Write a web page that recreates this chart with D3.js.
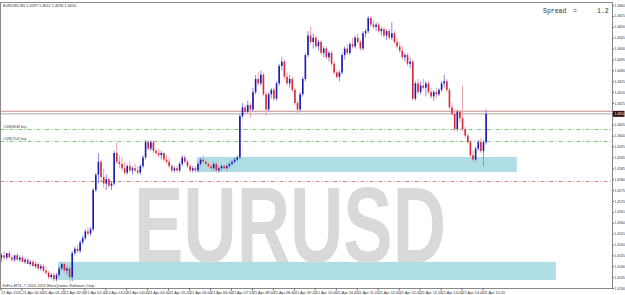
<!DOCTYPE html>
<html>
<head>
<meta charset="utf-8">
<script src="https://cdn.jsdelivr.net/npm/d3@7/dist/d3.min.js"></script>
<style>
body{margin:0;background:#fff;}
svg{display:block;font-family:"Liberation Sans",Arial,sans-serif;}
</style>
</head>
<body>
<script>
// EURUSD M5, 21 Apr 2011 from 00:00, one value per candle
let opens = [
1.4544,1.4545,1.4544,1.4546,1.4544,1.4543,1.4545,1.4543,1.4544,1.4542,
1.4543,1.4541,1.4542,1.4540,1.4541,1.4539,1.4540,1.4538,1.4537,1.4535,
1.4536,1.4534,1.4536,1.4539,1.4541,1.4538,1.4539,1.4535,1.4546,1.4548,
1.4547,1.4551,1.4553,1.4556,1.4555,1.4557,1.4575,1.4582,1.4588,1.4581,
1.4578,1.4580,1.4577,1.4578,1.4592,1.4588,1.4587,1.4585,1.4583,1.4586,
1.4584,1.4585,1.4584,1.4583,1.4586,1.4590,1.4597,1.4594,1.4597,1.4593,
1.4592,1.4591,1.4592,1.4589,1.4588,1.4586,1.4584,1.4585,1.4584,1.4587,
1.4590,1.4588,1.4586,1.4584,1.4585,1.4584,1.4587,1.4589,1.4588,1.4587,
1.4586,1.4585,1.4587,1.4584,1.4585,1.4586,1.4585,1.4586,1.4587,1.4588,
1.4589,1.4590,1.4609,1.4613,1.4611,1.4614,1.4612,1.4620,1.4626,1.4624,
1.4628,1.4619,1.4612,1.4619,1.4621,1.4617,1.4624,1.4632,1.4634,1.4627,
1.4624,1.4626,1.4621,1.4615,1.4612,1.4619,1.4626,1.4637,1.4646,1.4643,
1.4645,1.4641,1.4643,1.4638,1.4640,1.4636,1.4638,1.4633,1.4629,1.4627,
1.4629,1.4637,1.4640,1.4638,1.4642,1.4641,1.4645,1.4643,1.4640,1.4647,
1.4648,1.4654,1.4651,1.4650,1.4651,1.4648,1.4649,1.4646,1.4648,1.4645,
1.4647,1.4643,1.4641,1.4639,1.4636,1.4637,1.4633,1.4634,1.4617,1.4624,
1.4620,1.4623,1.4622,1.4624,1.4620,1.4618,1.4620,1.4619,1.4621,1.4624,
1.4625,1.4621,1.4613,1.4610,1.4603,1.4611,1.4608,1.4603,1.4600,1.4597,
1.4591,1.4589,1.4594,1.4597,1.4593,1.4597];
let highs = [
1.4546,1.4547,1.4546,1.4547,1.4545,1.4545,1.4546,1.4545,1.4545,1.4544,
1.4544,1.4543,1.4543,1.4542,1.4542,1.4541,1.4541,1.4540,1.4538,1.4537,
1.4537,1.4537,1.4540,1.4542,1.4542,1.4540,1.4540,1.4547,1.4549,1.4550,
1.4552,1.4554,1.4557,1.4558,1.4558,1.4576,1.4583,1.4592,1.4589,1.4585,
1.4582,1.4581,1.4579,1.4593,1.4597,1.4591,1.4590,1.4588,1.4587,1.4588,
1.4586,1.4587,1.4586,1.4587,1.4591,1.4598,1.4598,1.4598,1.4598,1.4594,
1.4594,1.4593,1.4592,1.4591,1.4590,1.4587,1.4586,1.4586,1.4588,1.4591,
1.4591,1.4589,1.4587,1.4586,1.4586,1.4588,1.4590,1.4591,1.4589,1.4588,
1.4587,1.4588,1.4588,1.4586,1.4587,1.4587,1.4587,1.4588,1.4589,1.4590,
1.4591,1.4610,1.4615,1.4614,1.4616,1.4615,1.4622,1.4628,1.4629,1.4630,
1.4629,1.4620,1.4620,1.4622,1.4622,1.4625,1.4633,1.4636,1.4635,1.4629,
1.4628,1.4627,1.4622,1.4616,1.4620,1.4627,1.4638,1.4648,1.4650,1.4647,
1.4646,1.4644,1.4644,1.4641,1.4641,1.4639,1.4639,1.4634,1.4630,1.4630,
1.4638,1.4641,1.4642,1.4643,1.4645,1.4646,1.4647,1.4644,1.4648,1.4649,
1.4655,1.4655,1.4653,1.4652,1.4652,1.4650,1.4650,1.4649,1.4649,1.4652,
1.4648,1.4645,1.4643,1.4641,1.4638,1.4638,1.4636,1.4635,1.4625,1.4626,
1.4625,1.4626,1.4625,1.4625,1.4622,1.4621,1.4622,1.4622,1.4625,1.4628,
1.4626,1.4622,1.4615,1.4612,1.4612,1.4612,1.4623,1.4604,1.4601,1.4598,
1.4593,1.4595,1.4598,1.4599,1.4598,1.4612];
let lows = [
1.4542,1.4543,1.4543,1.4544,1.4542,1.4542,1.4543,1.4542,1.4542,1.4541,
1.4541,1.4540,1.4540,1.4539,1.4538,1.4538,1.4537,1.4536,1.4534,1.4534,
1.4533,1.4533,1.4535,1.4538,1.4537,1.4536,1.4533,1.4533,1.4545,1.4546,
1.4546,1.4550,1.4552,1.4554,1.4554,1.4556,1.4574,1.4578,1.4579,1.4576,
1.4575,1.4576,1.4575,1.4577,1.4587,1.4585,1.4584,1.4582,1.4582,1.4583,
1.4582,1.4583,1.4582,1.4582,1.4585,1.4589,1.4593,1.4593,1.4592,1.4591,
1.4590,1.4589,1.4588,1.4587,1.4585,1.4583,1.4583,1.4583,1.4583,1.4586,
1.4587,1.4585,1.4583,1.4583,1.4583,1.4583,1.4586,1.4587,1.4586,1.4585,
1.4584,1.4584,1.4583,1.4583,1.4584,1.4584,1.4584,1.4585,1.4586,1.4587,
1.4588,1.4589,1.4608,1.4610,1.4610,1.4608,1.4611,1.4619,1.4623,1.4623,
1.4618,1.4609,1.4611,1.4617,1.4616,1.4616,1.4623,1.4630,1.4626,1.4623,
1.4622,1.4620,1.4614,1.4610,1.4611,1.4618,1.4625,1.4636,1.4642,1.4640,
1.4640,1.4639,1.4637,1.4636,1.4635,1.4634,1.4632,1.4628,1.4626,1.4625,
1.4628,1.4635,1.4637,1.4637,1.4640,1.4640,1.4642,1.4639,1.4639,1.4645,
1.4647,1.4650,1.4649,1.4648,1.4647,1.4646,1.4645,1.4644,1.4644,1.4644,
1.4642,1.4640,1.4638,1.4635,1.4634,1.4632,1.4631,1.4616,1.4616,1.4619,
1.4619,1.4621,1.4618,1.4619,1.4617,1.4616,1.4617,1.4618,1.4620,1.4622,
1.4620,1.4612,1.4609,1.4602,1.4602,1.4606,1.4602,1.4599,1.4596,1.4590,
1.4588,1.4588,1.4593,1.4592,1.4586,1.4596];
let closes = [
1.4545,1.4544,1.4546,1.4544,1.4543,1.4545,1.4543,1.4544,1.4542,1.4543,
1.4541,1.4542,1.4540,1.4541,1.4539,1.4540,1.4538,1.4537,1.4535,1.4536,
1.4534,1.4536,1.4539,1.4541,1.4538,1.4539,1.4535,1.4546,1.4548,1.4547,
1.4551,1.4553,1.4556,1.4555,1.4557,1.4575,1.4582,1.4588,1.4581,1.4578,
1.4580,1.4577,1.4578,1.4592,1.4588,1.4587,1.4585,1.4583,1.4586,1.4584,
1.4585,1.4584,1.4583,1.4586,1.4590,1.4597,1.4594,1.4597,1.4593,1.4592,
1.4591,1.4592,1.4589,1.4588,1.4586,1.4584,1.4585,1.4584,1.4587,1.4590,
1.4588,1.4586,1.4584,1.4585,1.4584,1.4587,1.4589,1.4588,1.4587,1.4586,
1.4585,1.4587,1.4584,1.4585,1.4586,1.4585,1.4586,1.4587,1.4588,1.4589,
1.4590,1.4609,1.4613,1.4611,1.4614,1.4612,1.4620,1.4626,1.4624,1.4628,
1.4619,1.4612,1.4619,1.4621,1.4617,1.4624,1.4632,1.4634,1.4627,1.4624,
1.4626,1.4621,1.4615,1.4612,1.4619,1.4626,1.4637,1.4646,1.4643,1.4645,
1.4641,1.4643,1.4638,1.4640,1.4636,1.4638,1.4633,1.4629,1.4627,1.4629,
1.4637,1.4640,1.4638,1.4642,1.4641,1.4645,1.4643,1.4640,1.4647,1.4648,
1.4654,1.4651,1.4650,1.4651,1.4648,1.4649,1.4646,1.4648,1.4645,1.4647,
1.4643,1.4641,1.4639,1.4636,1.4637,1.4633,1.4634,1.4617,1.4624,1.4620,
1.4623,1.4622,1.4624,1.4620,1.4618,1.4620,1.4619,1.4621,1.4624,1.4625,
1.4621,1.4613,1.4610,1.4603,1.4611,1.4608,1.4603,1.4600,1.4597,1.4591,
1.4589,1.4594,1.4597,1.4593,1.4597,1.4610];

// time labels, one every 8 candles (40 min)
let xLabels = ["21 Apr 2011","21 Apr 00:40","21 Apr 01:20","21 Apr 02:00","21 Apr 02:40","21 Apr 03:20",
  "21 Apr 04:00","21 Apr 04:40","21 Apr 05:20","21 Apr 06:00","21 Apr 06:40","21 Apr 07:20",
  "21 Apr 08:00","21 Apr 08:40","21 Apr 09:20","21 Apr 10:00","21 Apr 10:40","21 Apr 11:20",
  "21 Apr 12:00","21 Apr 12:40","21 Apr 13:20","21 Apr 14:00","21 Apr 14:40","21 Apr 15:20"];
let xTickIdx = [0,8,16,24,32,40,48,56,64,72,80,88,96,104,112,120,128,136,144,152,160,168,176,184];

let yTicks = [1.4530,1.4535,1.4540,1.4545,1.4550,1.4555,1.4560,1.4565,1.4570,1.4575,1.4580,1.4585,1.4590,
  1.4595,1.4600,1.4605,1.4610,1.4615,1.4620,1.4625,1.4630,1.4635,1.4640,1.4645,1.4650,1.4655,1.4660];

// zones (candle index from, to; price low, high)
let zoneFrom = [74.6, 21.6],
    zoneTo = [196.7, 211.6],
    zoneLow = [1.45833, 1.45337],
    zoneHigh = [1.45902, 1.45420];

let orderLevels = [1.46030, 1.45975],
    orderNames = ["#14808548 buy", "#14807542 buy"];
let stopLevel = 1.45791;
let spread = 1.2;
let askPrice = 1.46112;

window.onload = function(){

let width = 625, height = 295,
    left = 0.5, right = 612.5, top = 2.5, bottom = 288.5;

let svg = d3.select("body").append("svg").attr("width", width).attr("height", height);

let x = d3.scaleLinear().domain([0, 184]).range([1.5, 483.5]);
let y = d3.scaleLinear().domain([1.4530, 1.4660]).range([288, 5]);

let plot = svg.append("g");

// zones
plot.selectAll(".zone").data(zoneFrom).enter().append("rect")
  .attr("x", (d,i) => x(d))
  .attr("width", (d,i) => x(zoneTo[i]) - x(d))
  .attr("y", (d,i) => y(zoneHigh[i]))
  .attr("height", (d,i) => y(zoneLow[i]) - y(zoneHigh[i]))
  .attr("fill", "#aedde3");

// watermark
plot.append("text")
  .attr("x", 134).attr("y", 262)
  .attr("font-size", 108).attr("font-weight", "bold")
  .attr("textLength", 312).attr("lengthAdjust", "spacingAndGlyphs")
  .attr("fill", "#d9d9d9")
  .text("EURUSD");

// level lines
plot.selectAll(".ord").data(orderLevels).enter().append("line")
  .attr("x1", left).attr("x2", right)
  .attr("y1", d => Math.round(y(d)) + 0.5).attr("y2", d => Math.round(y(d)) + 0.5)
  .attr("stroke", "#7fc87f").attr("stroke-width", 1)
  .attr("stroke-dasharray", "4,2,1,2");

plot.selectAll(".ordtxt").data(orderLevels).enter().append("text")
  .attr("x", 3).attr("y", d => y(d) - 1)
  .attr("font-size", 3.4).attr("fill", "#444")
  .text((d,i) => orderNames[i]);

plot.append("line")
  .attr("x1", left).attr("x2", right)
  .attr("y1", Math.round(y(stopLevel)) + 0.5).attr("y2", Math.round(y(stopLevel)) + 0.5)
  .attr("stroke", "#d08a8a").attr("stroke-width", 1)
  .attr("stroke-dasharray", "4,2,1,2");

let lastClose = closes[closes.length - 1];
plot.append("line")
  .attr("x1", left).attr("x2", right)
  .attr("y1", y(askPrice)).attr("y2", y(askPrice))
  .attr("stroke", "#c98a8a").attr("stroke-width", 1);
plot.append("line")
  .attr("x1", left).attr("x2", right)
  .attr("y1", y(lastClose)).attr("y2", y(lastClose))
  .attr("stroke", "#b9a3a3").attr("stroke-width", 1);

// candles
let candles = plot.selectAll(".c").data(closes).enter().append("g");

candles.append("line")
  .attr("x1", (d,i) => x(i)).attr("x2", (d,i) => x(i))
  .attr("y1", (d,i) => y(highs[i])).attr("y2", (d,i) => y(lows[i]))
  .attr("stroke", (d,i) => d >= opens[i] ? "#8c8ce0" : "#eaa3ad")
  .attr("stroke-width", 1);

candles.append("rect")
  .attr("x", (d,i) => x(i) - 0.8)
  .attr("width", 1.6)
  .attr("y", (d,i) => y(Math.max(d, opens[i])))
  .attr("height", (d,i) => Math.max(1, Math.abs(y(d) - y(opens[i]))))
  .attr("fill", (d,i) => d >= opens[i] ? "#1a1ab4" : "#d6283a");

// frame
svg.append("rect")
  .attr("x", left).attr("y", top)
  .attr("width", right - left).attr("height", bottom - top)
  .attr("fill", "none").attr("stroke", "#8a8a8a").attr("stroke-width", 1);

// y axis
let yAxis = svg.append("g")
  .attr("transform", "translate(" + right + ",0)")
  .call(d3.axisRight(y).tickValues(yTicks).tickSize(1.5).tickPadding(0.5).tickFormat(d3.format(".4f")));
yAxis.select(".domain").remove();
yAxis.selectAll("line").attr("stroke", "#666");
yAxis.selectAll("text").attr("font-size", 3.4).attr("fill", "#333").attr("font-family", "Liberation Sans");

// x axis
let xAxis = svg.append("g")
  .attr("transform", "translate(0," + bottom + ")")
  .call(d3.axisBottom(x).tickValues(xTickIdx).tickSize(2).tickFormat((d,i) => xLabels[i]));
xAxis.select(".domain").remove();
xAxis.selectAll("line").attr("stroke", "#666").attr("transform", "translate(-1,0)");
xAxis.selectAll("text").attr("font-size", 3.8).attr("fill", "#333")
  .attr("text-anchor", "start").attr("dx", -0.5).attr("y", 2).attr("dy", "0.9em")
  .attr("font-family", "Liberation Sans");

// current price tag
let tag = svg.append("g").attr("transform", "translate(" + right + "," + y(lastClose) + ")");
tag.append("rect").attr("x", 0.5).attr("y", -3).attr("width", 11.5).attr("height", 6).attr("fill", "#3a1010");
tag.append("text").attr("x", 2).attr("y", 1.3).attr("font-size", 3.4).attr("fill", "#fff")
  .text(d3.format(".4f")(lastClose));

// header
svg.append("text")
  .attr("x", 3).attr("y", 7).attr("font-size", 3.8).attr("fill", "#333")
  .text("EURUSD,M5  " + [opens, highs, lows, closes].map(a => d3.format(".4f")(a[a.length - 1])).join(" "));

// spread
let sp = svg.append("g").attr("font-family", "Liberation Mono").attr("font-size", 6.5).attr("fill", "#333");
sp.append("text").attr("x", 543).attr("y", 13).text("Spread");
sp.append("text").attr("x", 573).attr("y", 13).text("=");
sp.append("text").attr("x", 597).attr("y", 13).text(d3.format(".1f")(spread));

// copyright
svg.append("text")
  .attr("x", 2).attr("y", 286.5).attr("font-size", 3.9).attr("fill", "#333")
  .text("XoFru MT4, \u00a9 2001-2011 MetaQuotes Software Corp.");

}
</script>
</body>
</html>
